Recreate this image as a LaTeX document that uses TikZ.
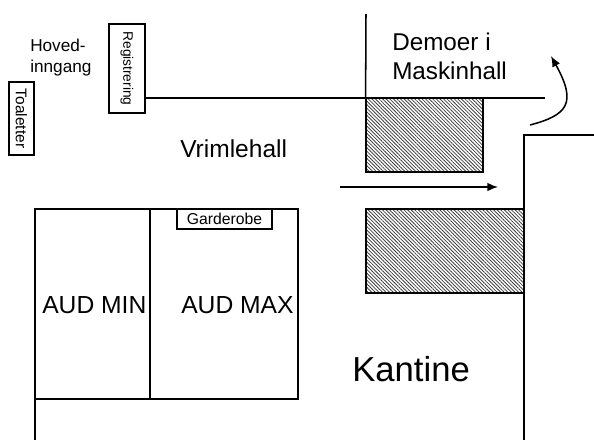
\documentclass[tikz,border=0pt]{standalone}
\usepackage{fontspec}
\setmainfont{Liberation Sans}
\usetikzlibrary{patterns.meta,arrows.meta}
\tikzset{
  wall/.style={draw=black,line width=1.15pt},
  lbl/.style={anchor=base west,inner sep=0pt,text=black},
  vbox/.style={draw=black,line width=1.15pt,fill=white,inner sep=0pt,rotate=-90,align=center},
  hatchbox/.style={draw=black,line width=0.8pt,inner sep=0pt,pattern={Lines[angle=-45,distance=1.9pt,line width=0.6pt]},pattern color=black!75},
  flow/.style={draw=black,line width=1.15pt,-{Latex[length=8pt,width=6.5pt]}},
}
\newcommand{\fs}[1]{\fontsize{#1}{#1}\selectfont}
\begin{document}
\begin{tikzpicture}[x=0.75pt,y=-0.75pt]
\useasboundingbox (0,0) rectangle (594,440);
% hatched areas
\node[hatchbox,minimum width=87.75pt,minimum height=55.5pt] (h1) at (424.5,135) {};
\node[hatchbox,minimum width=118.5pt,minimum height=63pt] (h2) at (445,251) {};
% boxes
\node[vbox,minimum width=66.75pt,minimum height=27pt,font=\fs{10.3}] (reg) at (127,68.5) {Registrering};
\node[vbox,minimum width=54.75pt,minimum height=18.75pt,font=\fs{11.6}] (toa) at (21.5,118.5) {Toaletter};
% auditoriums
\node[wall,draw,inner sep=0pt,minimum width=197.25pt,minimum height=142.5pt] (aud) at (166.5,304) {};
\coordinate (divt) at (150,209);
\coordinate (divb) at (150,399);
\draw[wall] (divt) -- (divb);
\coordinate (audbl) at (35,399);
\coordinate (audend) at (35,440);
\draw[wall] (audbl) -- (audend);
\node[wall,draw,fill=white,inner sep=0pt,minimum width=71.25pt,minimum height=15pt,font=\fs{11.8}] (gard) at (224.5,219) {Garderobe};
% walls
\coordinate (hend) at (545,98);
\draw[wall] (reg.north |- hend) -- (hend);
\coordinate (vtop) at (366,14);
\draw[wall] (vtop) -- (h1.north west);
\coordinate (k1) at (594,135);
\coordinate (k2) at (524,135);
\coordinate (k3) at (524,440);
\draw[wall] (k1) -- (k2) -- (k3);
% arrows
\coordinate (a1) at (340,187);
\coordinate (a2) at (498,187);
\draw[flow] (a1) -- (a2);
\coordinate (c1) at (530,125);
\coordinate (c2) at (551,56);
\draw[flow] (c1) .. controls (568,115) and (577,103) .. (c2);
% labels
\node[lbl,font=\fs{12.9}] (hov) at (30,51) {Hoved-};
\node[lbl,font=\fs{12.9}] (inn) at (30,72) {inngang};
\node[lbl,font=\fs{18.2}] (dem) at (392,50) {Demoer i};
\node[lbl,font=\fs{18.2}] (mas) at (392,79) {Maskinhall};
\node[lbl,font=\fs{18.4}] (vri) at (180,157) {Vrimlehall};
\node[lbl,font=\fs{18.5}] (min) at (42,313) {AUD MIN};
\node[lbl,font=\fs{18.5}] (max) at (181,313) {AUD MAX};
\node[lbl,font=\fs{26}] (kan) at (352,381) {Kantine};
\end{tikzpicture}
\end{document}
